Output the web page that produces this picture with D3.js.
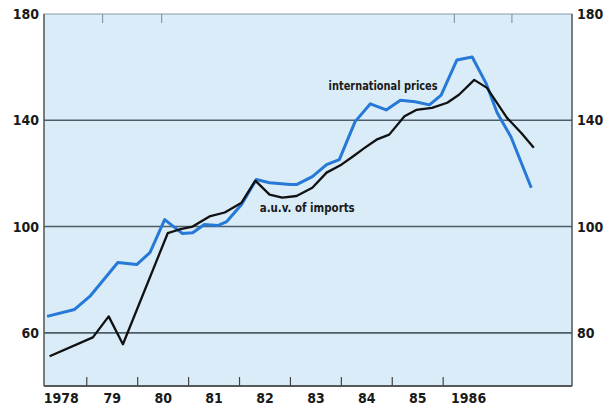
<!DOCTYPE html>
<html>
<head>
<meta charset="utf-8">
<script src="https://cdn.jsdelivr.net/npm/d3@7"></script>
<style>
  body { margin: 0; background: #fff; }
  svg text { font-family: "Liberation Sans Narrow", "DejaVu Sans Condensed", "Roboto", sans-serif; font-stretch: condensed; font-weight: bold; fill: #1a1a1a; }
</style>
</head>
<body>
<div id="chart"></div>
<script>
// dates in decimal years, values index
var intlDates = [1978.22, 1978.76, 1979.06, 1979.61, 1979.98, 1980.24, 1980.53, 1980.73, 1980.88, 1981.08,
    1981.31, 1981.57, 1981.75, 1982.04, 1982.33, 1982.59, 1983.0, 1983.12, 1983.43, 1983.71,
    1983.96, 1984.27, 1984.57, 1984.88, 1985.16, 1985.45, 1985.73, 1985.96, 1986.27, 1986.57,
    1986.84, 1987.06, 1987.33, 1987.73];
var intlPrices = [66.2, 68.8, 73.7, 86.5, 85.7, 90.2, 102.6, 99.6, 97.4, 97.7,
    100.8, 100.4, 101.9, 108.3, 117.7, 116.5, 115.8, 115.8, 118.8, 123.3,
    125.2, 139.5, 146.2, 143.9, 147.5, 147.0, 145.8, 149.5, 162.7, 163.8,
    154.0, 142.8, 133.8, 114.6];

var auvDates = [1978.27, 1979.12, 1979.43, 1979.71, 1980.59, 1980.82, 1981.08, 1981.41, 1981.71, 1982.04,
    1982.31, 1982.59, 1982.84, 1983.12, 1983.43, 1983.71, 1984.0, 1984.22, 1984.45, 1984.69,
    1984.94, 1985.24, 1985.47, 1985.78, 1986.08, 1986.31, 1986.61, 1986.86, 1987.25, 1987.53,
    1987.78];
var auvImports = [51.2, 58.3, 66.2, 55.7, 97.5, 98.9, 100.0, 103.8, 105.3, 109.0,
    117.3, 112.0, 110.9, 111.5, 114.6, 120.3, 123.3, 126.3, 129.5, 132.7,
    134.6, 141.5, 143.9, 144.7, 146.6, 149.6, 155.2, 152.2, 141.0, 135.3,
    129.7];

var yearLabels = ["1978", "79", "80", "81", "82", "83", "84", "85", "1986"];
var yearStarts = [1978, 1979, 1980, 1981, 1982, 1983, 1984, 1985, 1986];
var leftTicks = [180, 140, 100, 60];
var rightTickLabels = ["180", "140", "100", "80"];
var topMarks = [1979.31, 1980.47, 1986.22, 1987.35];

var width = 603, height = 405;
var margin = {top: 14, right: 31, bottom: 19, left: 44};

var svg = d3.select("#chart").append("svg")
    .attr("width", width)
    .attr("height", height);

var x = d3.scaleLinear()
    .domain([1978.16, 1988.53])
    .range([margin.left, width - margin.right]);

var y = d3.scaleLinear()
    .domain([40, 180])
    .range([height - margin.bottom, margin.top]);

// plot background
svg.append("rect")
    .attr("x", x.range()[0])
    .attr("y", y(180))
    .attr("width", x.range()[1] - x.range()[0])
    .attr("height", y(40) - y(180))
    .attr("fill", "#d9ecf8")
    .attr("stroke", "#8a9aa6")
    .attr("stroke-width", 1);

// gridlines
svg.selectAll(".grid")
    .data(leftTicks.slice(1))
    .enter().append("line")
    .attr("x1", x.range()[0])
    .attr("x2", x.range()[1])
    .attr("y1", function (d) { return y(d); })
    .attr("y2", function (d) { return y(d); })
    .attr("stroke", "#4d5d68")
    .attr("stroke-width", 1.6);

// axes lines
svg.append("line")
    .attr("x1", x.range()[0]).attr("x2", x.range()[1])
    .attr("y1", y(40)).attr("y2", y(40))
    .attr("stroke", "#333").attr("stroke-width", 1.6);
svg.append("line")
    .attr("x1", x.range()[0]).attr("x2", x.range()[0])
    .attr("y1", y(180)).attr("y2", y(40))
    .attr("stroke", "#555").attr("stroke-width", 1.3);
svg.append("line")
    .attr("x1", x.range()[1]).attr("x2", x.range()[1])
    .attr("y1", y(180)).attr("y2", y(40))
    .attr("stroke", "#555").attr("stroke-width", 1.3);

// year ticks on bottom
svg.selectAll(".xtick")
    .data(yearStarts.slice(1))
    .enter().append("line")
    .attr("x1", function (d) { return x(d); })
    .attr("x2", function (d) { return x(d); })
    .attr("y1", y(40))
    .attr("y2", y(40) - 9)
    .attr("stroke", "#444")
    .attr("stroke-width", 1.2);

// small marks on top
svg.selectAll(".topmark")
    .data(topMarks)
    .enter().append("line")
    .attr("x1", function (d) { return x(d); })
    .attr("x2", function (d) { return x(d); })
    .attr("y1", y(180))
    .attr("y2", y(180) + 9)
    .attr("stroke", "#8a9aa6")
    .attr("stroke-width", 1.2);

svg.selectAll(".xlabel")
    .data(yearLabels)
    .enter().append("text")
    .attr("x", function (d, i) { return x(yearStarts[i] + 0.5); })
    .attr("y", height - 2)
    .attr("text-anchor", "middle")
    .attr("font-size", 14)
    .text(function (d) { return d; });

svg.selectAll(".ylabel-left")
    .data(leftTicks)
    .enter().append("text")
    .attr("x", x.range()[0] - 5)
    .attr("y", function (d) { return y(d); })
    .attr("dy", "0.36em")
    .attr("text-anchor", "end")
    .attr("font-size", 14)
    .text(function (d) { return d; });

svg.selectAll(".ylabel-right")
    .data(leftTicks)
    .enter().append("text")
    .attr("x", x.range()[1] + 5)
    .attr("y", function (d) { return y(d); })
    .attr("dy", "0.36em")
    .attr("text-anchor", "start")
    .attr("font-size", 14)
    .text(function (d, i) { return rightTickLabels[i]; });

var line = d3.line()
    .x(function (d) { return x(d[0]); })
    .y(function (d) { return y(d[1]); });

svg.append("path")
    .datum(d3.zip(intlDates, intlPrices))
    .attr("d", line)
    .attr("fill", "none")
    .attr("stroke", "#2679d6")
    .attr("stroke-width", 3)
    .attr("stroke-linejoin", "round");

svg.append("path")
    .datum(d3.zip(auvDates, auvImports))
    .attr("d", line)
    .attr("fill", "none")
    .attr("stroke", "#111")
    .attr("stroke-width", 2.3)
    .attr("stroke-linejoin", "round");

svg.append("text")
    .attr("x", x(1984.82))
    .attr("y", y(151.4))
    .attr("text-anchor", "middle")
    .attr("font-size", 12.5)
    .attr("textLength", 109)
    .attr("lengthAdjust", "spacingAndGlyphs")
    .text("international prices");

svg.append("text")
    .attr("x", x(1983.33))
    .attr("y", y(105.5))
    .attr("text-anchor", "middle")
    .attr("font-size", 12.5)
    .attr("textLength", 95)
    .attr("lengthAdjust", "spacingAndGlyphs")
    .text("a.u.v. of imports");
</script>
</body>
</html>
